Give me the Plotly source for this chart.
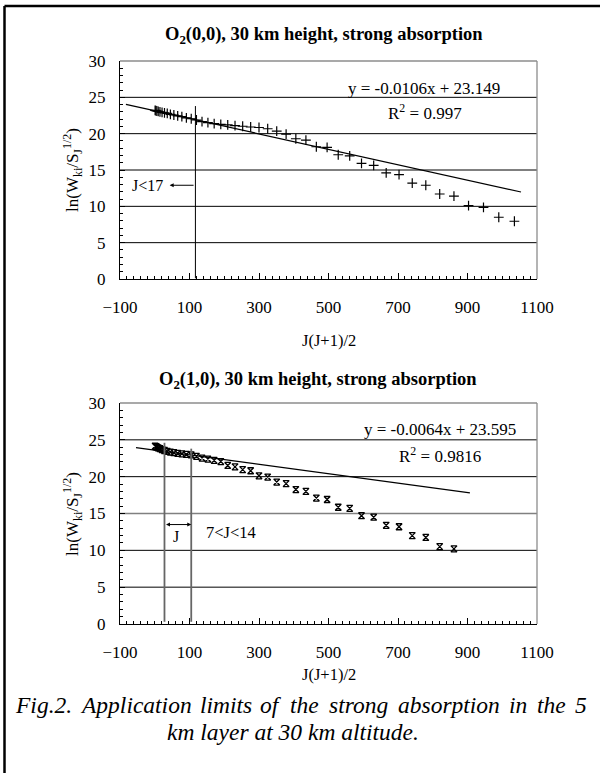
import plotly.graph_objects as go

# ---------------- data ----------------
# x = J(J+1)/2 for J = 1..45
top_x = [1, 3, 6, 10, 15, 21, 28, 36, 45, 55, 66, 78, 91, 105, 120, 136, 153, 171, 190, 210,
         231, 253, 276, 300, 325, 351, 378, 406, 435, 465, 496, 528, 561, 595, 630, 666, 703,
         741, 780, 820, 861, 903, 946, 990, 1035]
top_y = [23.20, 23.17, 23.12, 23.08, 23.00, 22.94, 22.85, 22.78, 22.66, 22.57, 22.44, 22.34,
         22.18, 22.05, 21.88, 21.65, 21.52, 21.38, 21.28, 21.20, 21.10, 21.02, 20.92, 20.85,
         20.68, 20.35, 19.95, 19.30, 19.10, 18.20, 18.10, 17.10, 16.95, 15.90, 15.65, 14.60,
         14.35, 13.20, 12.90, 11.70, 11.40, 10.10, 9.85, 8.50, 7.95]

bot_x = [1, 3, 6, 10, 15, 21, 28, 36, 45, 55, 66, 78, 91, 105, 120, 136, 153, 171, 190, 210,
         231, 253, 276, 300, 325, 351, 378, 406, 435, 465, 496, 528, 561, 595, 630, 666, 703,
         741, 780, 820, 861]
bot_y = [24.15, 24.08, 24.00, 23.90, 23.80, 23.68, 23.55, 23.42, 23.33, 23.25, 23.17, 23.10,
         23.02, 22.95, 22.76, 22.53, 22.39, 22.21, 22.05, 21.52, 21.33, 20.96, 20.80, 20.12,
         19.95, 19.27, 19.06, 18.25, 18.00, 17.10, 16.90, 15.85, 15.70, 14.70, 14.50, 13.40,
         13.20, 12.00, 11.75, 10.50, 10.20]

top_fit = {"slope": -0.0106, "intercept": 23.149, "x": [-83, 1054]}
bot_fit = {"slope": -0.0064, "intercept": 23.595, "x": [-54, 907]}

x_ticks = [-100, 100, 300, 500, 700, 900, 1100]
y_ticks = [0, 5, 10, 15, 20, 25, 30]

caption_line1 = ["Fig.2.", "Application", "limits", "of", "the", "strong", "absorption",
                 "in", "the", "5"]
caption_line2 = "km layer at 30 km altitude."

SERIF = "Liberation Serif, Times New Roman, serif"
W, H = 600, 773


def px(x):
    return x / W


def py(y):
    return 1 - y / H


fig = go.Figure()

# data traces
fig.add_trace(go.Scatter(x=top_x, y=top_y, mode="markers", xaxis="x", yaxis="y",
                         marker=dict(symbol="cross-thin-open", size=7, color="black",
                                     line=dict(color="black", width=1.2)),
                         showlegend=False))
fig.add_trace(go.Scatter(x=top_fit["x"],
                         y=[top_fit["slope"] * v + top_fit["intercept"] for v in top_fit["x"]],
                         mode="lines", xaxis="x", yaxis="y",
                         line=dict(color="black", width=1.2), showlegend=False))
fig.add_trace(go.Scatter(x=bot_x, y=bot_y, mode="markers", xaxis="x2", yaxis="y2",
                         marker=dict(symbol="hourglass-open", size=6, color="black",
                                     line=dict(color="black", width=1.3)),
                         showlegend=False))
fig.add_trace(go.Scatter(x=bot_fit["x"],
                         y=[bot_fit["slope"] * v + bot_fit["intercept"] for v in bot_fit["x"]],
                         mode="lines", xaxis="x2", yaxis="y2",
                         line=dict(color="black", width=1.2), showlegend=False))


def xaxis_cfg(anchor, domain):
    return dict(domain=domain, anchor=anchor, range=[-100, 1100], tickvals=x_ticks,
                ticks="inside", ticklen=6, tickwidth=1, tickcolor="black",
                showline=True, linecolor="black", linewidth=1, showgrid=False,
                zeroline=False, tickfont=dict(family=SERIF, size=17, color="black"),
                ticklabelstandoff=13, automargin=False,
                minor=dict(dtick=20, tick0=-100, ticks="inside", ticklen=3,
                           tickcolor="black", tickwidth=1, showgrid=False))


def yaxis_cfg(anchor, domain):
    return dict(domain=domain, anchor=anchor, range=[0, 30], tickvals=y_ticks,
                ticks="inside", ticklen=5, tickwidth=1, tickcolor="black",
                showline=True, linecolor="black", linewidth=1, showgrid=False,
                zeroline=False, tickfont=dict(family=SERIF, size=17, color="black"),
                ticklabelstandoff=10, automargin=False,
                minor=dict(dtick=1, ticks="inside", ticklen=3, tickcolor="black",
                           tickwidth=1, showgrid=False))


xdom = [px(120), px(537)]
fig.update_layout(
    width=W, height=H, autosize=False,
    margin=dict(l=0, r=0, t=0, b=0, pad=0, autoexpand=False),
    paper_bgcolor="white", plot_bgcolor="white",
    xaxis=xaxis_cfg("y", xdom),
    yaxis=yaxis_cfg("x", [py(279), py(61)]),
    xaxis2=xaxis_cfg("y2", xdom),
    yaxis2=yaxis_cfg("x2", [py(624), py(403)]),
)

shapes = []
# grid lines
for (xr, yr) in [("x", "y"), ("x2", "y2")]:
    for g in [5, 10, 15, 20, 25]:
        col = "black"
        wid = 1
        if xr == "x2" and g == 15:
            col, wid = "#808080", 1.6
        shapes.append(dict(type="line", xref=xr + " domain", yref=yr, x0=0, x1=1, y0=g, y1=g,
                           line=dict(color=col, width=wid), layer="below"))
    # gray top / right borders
    shapes.append(dict(type="line", xref=xr + " domain", yref=yr + " domain", x0=0, x1=1,
                       y0=1, y1=1, line=dict(color="#8c8c8c", width=1.3)))
    shapes.append(dict(type="line", xref=xr + " domain", yref=yr + " domain", x0=1, x1=1,
                       y0=0, y1=1, line=dict(color="#8c8c8c", width=1.3)))

# vertical limit lines
shapes.append(dict(type="line", xref="x", yref="y", x0=117, x1=117, y0=0.1, y1=23.8,
                   line=dict(color="black", width=1)))
shapes.append(dict(type="line", xref="x2", yref="y2", x0=28, x1=28, y0=0.3, y1=24.6,
                   line=dict(color="#666666", width=1.8)))
shapes.append(dict(type="line", xref="x2", yref="y2", x0=105, x1=105, y0=0.3, y1=23.8,
                   line=dict(color="#666666", width=1.8)))

# outer frame (top and left edges visible)
shapes.append(dict(type="line", xref="paper", yref="paper", x0=px(4.5), x1=1,
                   y0=py(6), y1=py(6), line=dict(color="black", width=2.5)))
shapes.append(dict(type="line", xref="paper", yref="paper", x0=px(4.5), x1=px(4.5),
                   y0=py(6), y1=0, line=dict(color="black", width=2.5)))
fig.update_layout(shapes=shapes)

ann = []
# titles
ann.append(dict(xref="paper", yref="paper", x=px(324), y=py(35), showarrow=False,
                text="<b>O<sub>2</sub>(0,0), 30 km height, strong absorption</b>",
                font=dict(family=SERIF, size=18.5, color="black"), xanchor="center", yanchor="middle"))
ann.append(dict(xref="paper", yref="paper", x=px(318), y=py(380), showarrow=False,
                text="<b>O<sub>2</sub>(1,0), 30 km height, strong absorption</b>",
                font=dict(family=SERIF, size=18.5, color="black"), xanchor="center", yanchor="middle"))
# axis titles
for yc in [340, 674]:
    ann.append(dict(xref="paper", yref="paper", x=px(329), y=py(yc), showarrow=False,
                    text="J(J+1)/2", font=dict(family=SERIF, size=16.5, color="black"),
                    xanchor="center", yanchor="middle"))
for yc in [170, 514]:
    ann.append(dict(xref="paper", yref="paper", x=px(72), y=py(yc), showarrow=False,
                    text="ln(W<sub>ki</sub>/S<sub>J</sub><sup>1/2</sup>)", textangle=-90,
                    font=dict(family=SERIF, size=17, color="black"),
                    xanchor="center", yanchor="middle"))
# equations
ann.append(dict(xref="x", yref="y", x=775, y=26.2, showarrow=False,
                text="y = -0.0106x + 23.149", font=dict(family=SERIF, size=17, color="black")))
ann.append(dict(xref="x", yref="y", x=778, y=22.95, showarrow=False,
                text="R<sup>2</sup> = 0.997", font=dict(family=SERIF, size=17, color="black")))
ann.append(dict(xref="x2", yref="y2", x=821, y=26.4, showarrow=False,
                text="y = -0.0064x + 23.595", font=dict(family=SERIF, size=17, color="black")))
ann.append(dict(xref="x2", yref="y2", x=821, y=23.0, showarrow=False,
                text="R<sup>2</sup> = 0.9816", font=dict(family=SERIF, size=17, color="black")))
# limit labels
ann.append(dict(xref="x", yref="y", x=-22, y=12.9, showarrow=False,
                text="J&lt;17", font=dict(family=SERIF, size=16, color="black")))
ann.append(dict(xref="x", yref="y", x=43, y=12.9, ax=116, ay=12.9, axref="x", ayref="y",
                text="", showarrow=True, arrowhead=2, arrowsize=0.8, arrowwidth=1,
                arrowcolor="black"))
ann.append(dict(xref="x2", yref="y2", x=105, y=13.5, ax=28, ay=13.5, axref="x2", ayref="y2",
                text="", showarrow=True, arrowhead=2, arrowside="end+start", arrowsize=0.8,
                arrowwidth=1, arrowcolor="black"))
ann.append(dict(xref="x2", yref="y2", x=60, y=11.9, showarrow=False,
                text="J", font=dict(family=SERIF, size=16, color="black")))
ann.append(dict(xref="x2", yref="y2", x=218, y=12.4, showarrow=False,
                text="7&lt;J&lt;14", font=dict(family=SERIF, size=16.5, color="black")))

# caption: first line justified across the frame (word by word), second line centred
CAP_SIZE = 23.5
ITALIC_W = {"F": .611, "i": .278, "g": .5, ".": .25, "2": .5, "A": .611, "p": .5, "l": .278,
            "c": .444, "a": .5, "t": .278, "o": .5, "n": .5, "m": .722, "s": .389, "f": .278,
            "h": .5, "e": .444, "r": .389, "b": .5, "5": .5}
word_w = [sum(ITALIC_W.get(ch, .5) for ch in w) * CAP_SIZE for w in caption_line1]
left, right = 15.0, 587.0
gap = (right - left - sum(word_w)) / (len(caption_line1) - 1)
xpos = left
for w, ww in zip(caption_line1, word_w):
    ann.append(dict(xref="paper", yref="paper", x=px(xpos + ww / 2), y=py(705),
                    showarrow=False, text="<i>" + w + "</i>",
                    font=dict(family=SERIF, size=CAP_SIZE, color="black"),
                    xanchor="center", yanchor="middle"))
    xpos += ww + gap
ann.append(dict(xref="paper", yref="paper", x=px(292.5), y=py(732), showarrow=False,
                text="<i>" + caption_line2 + "</i>",
                font=dict(family=SERIF, size=CAP_SIZE, color="black"), xanchor="center",
                yanchor="middle"))
fig.update_layout(annotations=ann)

fig.write_html(
    "out.html",
    config={"displayModeBar": False, "staticPlot": True},
    post_script="document.body.style.margin='0';document.documentElement.style.overflow='hidden';document.body.style.overflow='hidden';",
)
